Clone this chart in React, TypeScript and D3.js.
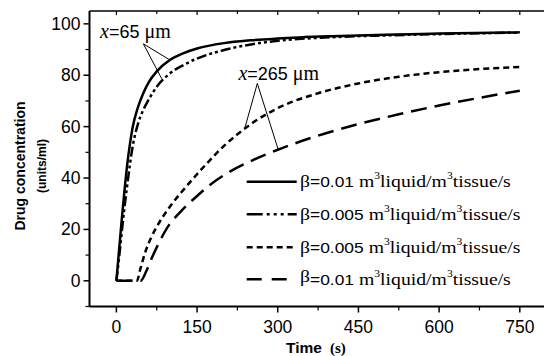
import React from "react";
import * as d3 from "d3";

// Drug concentration vs time at two depths (x = 65 µm, x = 265 µm) for two β values
const tSolid = [0, 5, 10, 15, 20, 25, 30, 40, 50, 60, 75, 100, 125, 150, 200, 250, 300, 400, 500, 600, 750];
const cSolid = [0, 12, 24, 35, 45, 53, 59.5, 67.5, 73, 77.2, 81.5, 86, 88.6, 90.4, 92.5, 93.6, 94.3, 95.2, 95.8, 96.2, 96.7];

const tDashDot = [0, 5, 10, 15, 20, 25, 30, 40, 50, 60, 75, 100, 125, 150, 200, 250, 300, 400, 500, 600, 750];
const cDashDot = [0, 9, 19, 28.5, 37, 45, 52, 61, 66.5, 70.5, 75.5, 80.8, 84, 86.5, 89.8, 92, 93.4, 94.8, 95.5, 96, 96.6];

const tShortDash = [0, 38, 45, 55, 65, 75, 100, 125, 150, 175, 200, 225, 250, 300, 375, 450, 525, 600, 675, 750];
const cShortDash = [0, 0, 5, 12, 17, 21, 29, 35.5, 41.5, 47.2, 52.5, 57, 61, 67.2, 73, 76.8, 79.4, 81.2, 82.4, 83.2];

const tLongDash = [0, 45, 55, 65, 75, 94, 120, 150, 175, 211, 254, 300, 375, 450, 525, 600, 675, 750];
const cLongDash = [0, 0, 3.5, 8.5, 13, 20.5, 27, 33, 37.5, 42.5, 47, 51, 56.5, 61, 64.8, 68.2, 71.2, 74];

const xMajorTicks = [0, 150, 300, 450, 600, 750];
const xMinorTicks = [-75, 75, 225, 375, 525, 675];
const yMajorTicks = [0, 20, 40, 60, 80, 100];
const yMinorTicks = [-10, 10, 30, 50, 70, 90];

const legendBetas = ["0.01", "0.005", "0.005", "0.01"];

const W = 544;
const H = 356;

const x = d3.scaleLinear().domain([-50, 800]).range([89.5, 546.7]);
const y = d3.scaleLinear().domain([-10, 105]).range([306.5, 11.0]);

const line = d3
  .line<[number, number]>()
  .x((d) => x(d[0]))
  .y((d) => y(d[1]))
  .curve(d3.curveMonotoneX);

const zip = (t: number[], c: number[]) => t.map((v, i) => [v, c[i]] as [number, number]);

const series = [
  { pts: zip(tSolid, cSolid), dash: "none", legendDash: "none" },
  { pts: zip(tDashDot, cDashDot), dash: "10,3,3,3,3,3", legendDash: "16,4,3,4,3,4,3,4" },
  { pts: zip(tShortDash, cShortDash), dash: "6,4", legendDash: "6,4" },
  { pts: zip(tLongDash, cLongDash), dash: "16,8", legendDash: "15,10" },
];

const SANS = "'Liberation Sans', Arial, sans-serif";
const SERIF = "'Liberation Serif', 'Times New Roman', serif";

function Annotation({ label, at, apex, targets }: { label: string; at: [number, number]; apex: [number, number]; targets: [number, number][] }) {
  return (
    <g>
      <text x={x(at[0])} y={y(at[1])} fontSize={20}>
        <tspan fontFamily={SERIF} fontStyle="italic">x</tspan>
        <tspan fontFamily={SANS} fontSize={18}>={label}</tspan>
        <tspan fontFamily={SERIF}> μm</tspan>
      </text>
      {targets.map((tg, i) => (
        <line key={i} x1={x(apex[0])} y1={y(apex[1])} x2={x(tg[0])} y2={y(tg[1])} stroke="#000" strokeWidth={1} />
      ))}
    </g>
  );
}

export default function App() {
  const x0 = x.range()[0];
  const x1 = W;
  const yTop = y.range()[1];
  const yBot = y.range()[0];
  const legendRows = [181.7, 214.3, 247.3, 279.3];
  return (
    <svg width={W} height={H} style={{ position: "absolute", left: 0, top: 0, background: "#fff" }}>
      <rect width={W} height={H} fill="#fff" />
      <defs>
        <clipPath id="plot">
          <rect x={x0} y={yTop} width={x1 - x0} height={yBot - yTop} />
        </clipPath>
      </defs>

      {/* frame lines */}
      <line x1={x0} y1={yTop} x2={x1} y2={yTop} stroke="#000" strokeWidth={1.5} />
      <line x1={x0} y1={yBot} x2={x1} y2={yBot} stroke="#000" strokeWidth={2} />
      <line x1={x0} y1={yTop} x2={x0} y2={yBot} stroke="#000" strokeWidth={2} />

      {/* bottom axis ticks */}
      {xMajorTicks.map((t) => (
        <g key={"xm" + t}>
          <line x1={x(t)} x2={x(t)} y1={yBot} y2={yBot + 6} stroke="#000" strokeWidth={1.5} />
          <line x1={x(t)} x2={x(t)} y1={yTop} y2={yTop + 4} stroke="#000" strokeWidth={1.2} />
          <text x={x(t)} y={yBot + 26} textAnchor="middle" fontFamily={SANS} fontSize={17.5}>
            {t}
          </text>
        </g>
      ))}
      {xMinorTicks.filter((t) => x(t) > x0).map((t) => (
        <g key={"xn" + t}>
          <line x1={x(t)} x2={x(t)} y1={yBot} y2={yBot + 4} stroke="#000" strokeWidth={1.2} />
          <line x1={x(t)} x2={x(t)} y1={yTop} y2={yTop + 3} stroke="#000" strokeWidth={1.2} />
        </g>
      ))}

      {/* left axis ticks */}
      {yMajorTicks.map((v) => (
        <g key={"ym" + v}>
          <line x1={x0 - 6} x2={x0} y1={y(v)} y2={y(v)} stroke="#000" strokeWidth={1.5} />
          <text x={x0 - 9} y={y(v) + 6} textAnchor="end" fontFamily={SANS} fontSize={17.5}>
            {v}
          </text>
        </g>
      ))}
      {yMinorTicks.map((v) => (
        <line key={"yn" + v} x1={x0 - 4} x2={x0} y1={y(v)} y2={y(v)} stroke="#000" strokeWidth={1.2} />
      ))}

      {/* axis titles */}
      <text transform={`translate(24.5,166) rotate(-90)`} textAnchor="middle" fontFamily={SANS} fontWeight="bold" fontSize={14}>
        Drug concentration
      </text>
      <text transform={`translate(45.5,166) rotate(-90)`} textAnchor="middle" fontFamily={SANS} fontWeight="bold" fontSize={12}>
        (units/ml)
      </text>
      <text x={286} y={353} fontFamily={SANS} fontWeight="bold" fontSize={15.5}>
        Time
        <tspan fontFamily={SERIF} fontSize={15} dx={8}>(s)</tspan>
      </text>

      {/* curves */}
      <g clipPath="url(#plot)">
        {series.map((s, i) => (
          <path key={i} d={line(s.pts) || ""} fill="none" stroke="#000" strokeWidth={2.5} strokeDasharray={s.dash} />
        ))}
      </g>

      {/* annotations */}
      <Annotation label="65" at={[-30.3, 94.4]} apex={[50.2, 92.2]} targets={[[100.7, 85.8], [84.4, 78.6]]} />
      <Annotation label="265" at={[226.8, 78.2]} apex={[262, 76.8]} targets={[[239, 59.6], [301, 51]]} />

      {/* legend */}
      {series.map((s, i) => {
        const ly = legendRows[i];
        return (
          <g key={"lg" + i}>
            <line x1={246.7} x2={296.7} y1={ly} y2={ly} stroke="#000" strokeWidth={2.5} strokeDasharray={s.legendDash} />
            <g transform={`translate(300,${ly + 5.5}) scale(1.16,1)`}>
              <text x={0} y={0} fontSize={17} fontFamily={SERIF}>
                <tspan dy={i === 3 ? -3 : 0}>β</tspan>
                <tspan fontFamily={SANS} fontSize={15} dy={i === 3 ? 3 : 0}>={legendBetas[i]}</tspan>
                <tspan> m</tspan>
                <tspan fontSize={10} dy={-8}>3</tspan>
                <tspan dy={8}>liquid/m</tspan>
                <tspan fontSize={10} dy={-8}>3</tspan>
                <tspan dy={8}>tissue/s</tspan>
              </text>
            </g>
          </g>
        );
      })}
    </svg>
  );
}
